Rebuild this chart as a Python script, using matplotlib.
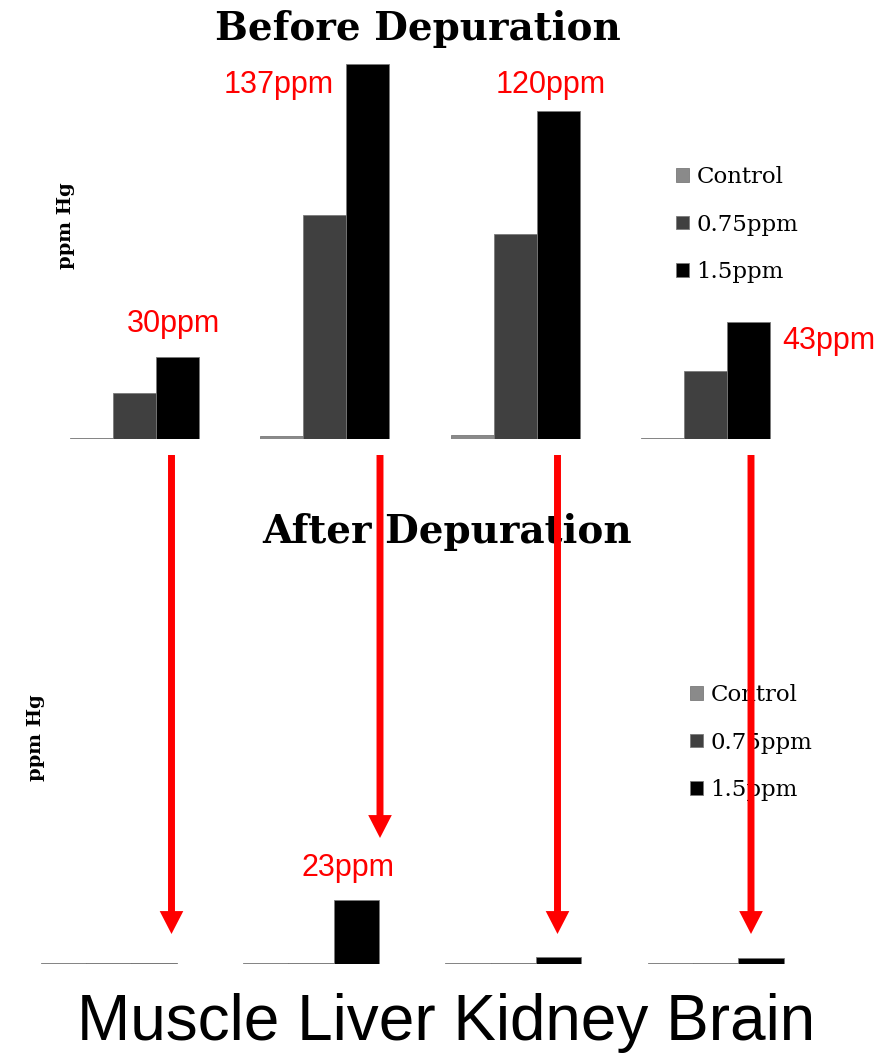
import matplotlib.pyplot as plt
from matplotlib.patches import FancyArrowPatch
import numpy as np

# data (ppm Hg)
tissues = ['Muscle', 'Liver', 'Kidney', 'Brain']
doses = ['Control', '0.75ppm', '1.5ppm']
dose_colors = ['#8a8a8a', '#404040', '#000000']

before_control = [0.4, 1.1, 1.5, 0.4]
before_075 = [17, 82, 75, 25]
before_15 = [30, 137, 120, 43]

after_control = [0.2, 0.2, 0.2, 0.2]
after_075 = [0.3, 0.4, 0.5, 0.5]
after_15 = [0.5, 23, 2.5, 2.0]

before_callouts = [30, 137, 120, 43]
after_callouts = [None, 23, None, None]

W, H = 884, 1053
fig = plt.figure(figsize=(W / 100, H / 100), dpi=100)


def px(x, y):
    # pixel position (from top-left) -> figure fraction
    return x / W, 1 - y / H


x = np.arange(len(tissues))

# top chart: baseline at 439.5px, 2.741 px per ppm
ax1 = fig.add_axes([0, 1 - 439.5 / H, 1, 439.5 / H])
w1 = 43 / 190.5
for k, vals in enumerate([before_control, before_075, before_15]):
    ax1.bar(x + (k - 1) * w1, vals, w1, color=dose_colors[k],
            edgecolor='#7a7a7a', linewidth=0.6, label=doses[k])
ax1.set_xlim(-134 / 190.5, (W - 134) / 190.5)
ax1.set_ylim(0, 439.5 / 2.741)
ax1.axis('off')

# bottom chart: baseline at 964px, 2.78 px per ppm
ax2 = fig.add_axes([0, 1 - 964 / H, 1, 504 / H])
w2 = 45.3 / 202.3
for k, vals in enumerate([after_control, after_075, after_15]):
    ax2.bar(x + (k - 1) * w2, vals, w2, color=dose_colors[k],
            edgecolor='#7a7a7a', linewidth=0.6, label=doses[k])
ax2.set_xlim(-108.8 / 202.3, (W - 108.8) / 202.3)
ax2.set_ylim(0, 504 / 2.78)
ax2.axis('off')

# titles and axis labels
fig.text(*px(418, 29), 'Before Depuration', family='DejaVu Serif',
         weight='bold', fontsize=28, ha='center', va='center')
fig.text(*px(447, 532), 'After Depuration', family='DejaVu Serif',
         weight='bold', fontsize=28, ha='center', va='center')
fig.text(*px(66, 226), 'ppm Hg', family='DejaVu Serif', weight='bold',
         fontsize=14, rotation=90, ha='center', va='center')
fig.text(*px(36, 738), 'ppm Hg', family='DejaVu Serif', weight='bold',
         fontsize=14, rotation=90, ha='center', va='center')

# legends
for ax, (lx, ly) in [(ax1, (676, 166)), (ax2, (690, 684))]:
    ax.legend(loc='upper left', bbox_to_anchor=px(lx, ly),
              bbox_transform=fig.transFigure, frameon=False,
              prop={'family': 'DejaVu Serif', 'size': 16.5},
              handlelength=0.55, handleheight=0.55, handletextpad=0.35,
              labelspacing=1.12, borderpad=0, borderaxespad=0)

# red callouts
callout_pos = [(173, 324), (279, 85), (551, 85), (829, 341)]
for v, (tx, ty) in zip(before_callouts, callout_pos):
    fig.text(*px(tx, ty), f'{v}ppm', color='red', family='Liberation Sans',
             fontsize=22, ha='center', va='center')
after_pos = [None, (348, 868), None, None]
for v, p in zip(after_callouts, after_pos):
    if v is not None:
        fig.text(*px(*p), f'{v}ppm', color='red', family='Liberation Sans',
                 fontsize=22, ha='center', va='center')

# red arrows from top 1.5ppm bars down to the bottom chart
arrow_nudge = [-5.5, 12.5, -0.5, 2.5]
arrow_end = [934, 838, 934, 934]
for i in range(len(tissues)):
    xp = ax1.transData.transform((x[i] + w1, 0))[0] + arrow_nudge[i]
    arr = FancyArrowPatch(px(xp, 455), px(xp, arrow_end[i]),
                          transform=fig.transFigure,
                          arrowstyle='simple,head_width=17,head_length=16.5,tail_width=5',
                          mutation_scale=1, color='red', lw=0,
                          shrinkA=0, shrinkB=0, zorder=10)
    fig.add_artist(arr)

# category names along the bottom
fig.text(*px(446.5, 1040), ' '.join(tissues), family='Liberation Sans',
         fontsize=46, ha='center', va='baseline')

fig.savefig('out.png', dpi=100)
